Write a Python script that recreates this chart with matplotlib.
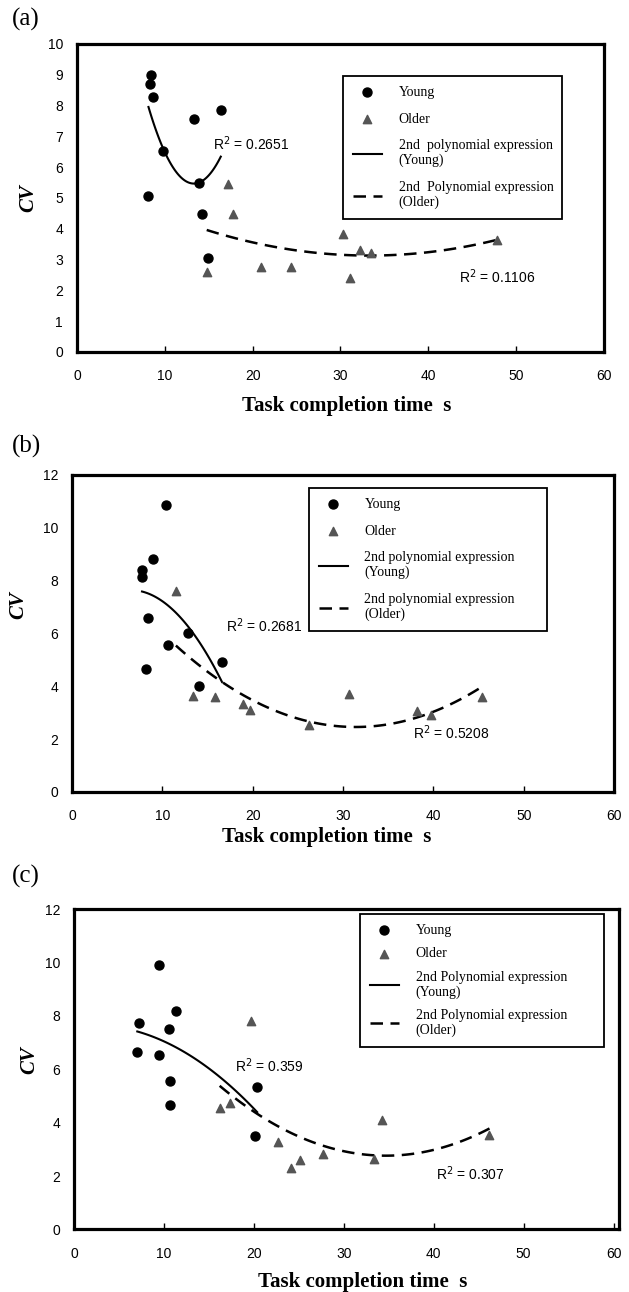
import numpy as np
import matplotlib.pyplot as plt

plt.rcParams['font.family'] = ['Liberation Sans', 'DejaVu Sans']

# (a)
a_young_t = [8.48, 8.29, 8.63, 8.14, 9.8, 13.31, 16.37, 13.92, 14.19, 14.91]
a_young_cv = [9.0, 8.7, 8.28, 5.07, 6.54, 7.56, 7.87, 5.5, 4.49, 3.06]
a_older_t = [17.2, 17.8, 14.77, 20.94, 24.32, 30.26, 32.25, 33.43, 31.1, 47.8]
a_older_cv = [5.44, 4.47, 2.6, 2.77, 2.75, 3.84, 3.32, 3.21, 2.39, 3.65]
a_r2 = ["0.2651", "0.1106"]

# (b)
b_young_t = [10.4, 8.93, 7.75, 7.75, 8.45, 8.23, 10.63, 12.84, 16.6, 14.1]
b_young_cv = [10.85, 8.82, 8.40, 8.13, 6.6, 4.64, 5.56, 6.02, 4.92, 4.0]
b_older_t = [11.5, 13.4, 15.8, 18.9, 19.7, 26.2, 30.7, 38.2, 39.7, 45.4]
b_older_cv = [7.6, 3.62, 3.6, 3.33, 3.09, 2.52, 3.70, 3.06, 2.91, 3.59]
b_r2 = ["0.2681", "0.5208"]

# (c)
c_young_t = [9.48, 7.19, 7.04, 11.33, 10.56, 9.48, 10.63, 10.63, 20.37, 20.15]
c_young_cv = [9.9, 7.75, 6.64, 8.19, 7.52, 6.54, 5.56, 4.65, 5.35, 3.5]
c_older_t = [19.7, 16.2, 17.35, 22.7, 24.1, 25.1, 27.65, 33.4, 34.3, 46.2]
c_older_cv = [7.79, 4.54, 4.75, 3.26, 2.31, 2.6, 2.81, 2.64, 4.1, 3.54]
c_r2 = ["0.359", "0.307"]

W, H = 629, 1292
fig = plt.figure(figsize=(W / 100, H / 100), dpi=100)

panels = [
    dict(tag="(a)", rect=[0.1224, 0.7276, 0.8378, 0.2384], xmax=60, ymax=10, ystep=1,
         yt=a_young_t, yc=a_young_cv, ot=a_older_t, oc=a_older_cv, r2=a_r2,
         r2pos=[(15.5, 6.75, 'left'), (43.5, 2.44, 'left')],
         labels=["2nd  polynomial expression\n(Young)", "2nd  Polynomial expression\n(Older)"],
         leg=(0.505, 0.435, 0.4156, 0.461), lsp=1.0, tagy=19, ylab=(-0.074, 0.5), xlab=(347, 406)),
    dict(tag="(b)", rect=[0.1145, 0.3870, 0.8617, 0.2454], xmax=60, ymax=12, ystep=2,
         yt=b_young_t, yc=b_young_cv, ot=b_older_t, oc=b_older_cv, r2=b_r2,
         r2pos=[(25.5, 6.3, 'right'), (37.7, 2.24, 'left')],
         labels=["2nd polynomial expression\n(Young)", "2nd polynomial expression\n(Older)"],
         leg=(0.437, 0.514, 0.439, 0.445), lsp=1.0, tagy=446, ylab=(-0.081, 0.59), xlab=(327, 837)),
    dict(tag="(c)", rect=[0.1176, 0.0484, 0.8665, 0.2480], xmax=60.6, ymax=12, ystep=2,
         yt=c_young_t, yc=c_young_cv, ot=c_older_t, oc=c_older_cv, r2=c_r2,
         r2pos=[(17.9, 6.15, 'left'), (40.3, 2.07, 'left')],
         labels=["2nd Polynomial expression\n(Young)", "2nd Polynomial expression\n(Older)"],
         leg=(0.525, 0.584, 0.448, 0.40), lsp=0.75, tagy=876, ylab=(-0.063, 0.528), xlab=(363, 1282)),
]

for p in panels:
    ax = fig.add_axes(p["rect"])
    yt, yc = np.array(p["yt"]), np.array(p["yc"])
    ot, oc = np.array(p["ot"]), np.array(p["oc"])

    hy = ax.scatter(yt, yc, s=42, marker='o', color='black', zorder=3, label='Young')
    ho = ax.scatter(ot, oc, s=36, marker='^', color='#555555', zorder=3, label='Older')

    # 2nd order polynomial trend lines
    fy = np.polyfit(yt, yc, 2)
    xx = np.linspace(yt.min(), yt.max(), 100)
    ly, = ax.plot(xx, np.polyval(fy, xx), color='black', lw=1.5)
    fo = np.polyfit(ot, oc, 2)
    xx = np.linspace(ot.min(), ot.max(), 100)
    lo, = ax.plot(xx, np.polyval(fo, xx), color='black', lw=1.8, dashes=(5, 3))

    (x1, y1, h1), (x2, y2, h2) = p["r2pos"]
    ax.text(x1, y1, "R$^2$ = " + p["r2"][0], ha=h1, va='center', fontsize=10)
    ax.text(x2, y2, "R$^2$ = " + p["r2"][1], ha=h2, va='center', fontsize=10)

    ax.set_xlim(0, p["xmax"])
    ax.set_ylim(0, p["ymax"])
    ax.set_xticks(np.arange(0, 61, 10))
    ax.set_yticks(np.arange(0, p["ymax"] + 0.1, p["ystep"]))
    ax.tick_params(axis='x', direction='in', length=4, width=1, pad=12.5, labelsize=10)
    ax.tick_params(axis='y', length=0, pad=10, labelsize=10)
    for s in ax.spines.values():
        s.set_linewidth(2.3)

    ax.set_ylabel("CV", family='Liberation Serif', fontsize=15, fontweight='bold', style='italic')
    ax.yaxis.set_label_coords(*p["ylab"])
    ax.set_xlabel("Task completion time  s", family='Liberation Serif', fontsize=15, fontweight='bold')
    left_px = p["rect"][0] * W
    top_px = H - (p["rect"][1] + p["rect"][3]) * H
    ax.xaxis.set_label_coords((p["xlab"][0] - left_px) / (p["rect"][2] * W),
                              1 - (p["xlab"][1] - top_px) / (p["rect"][3] * H))
    ax.xaxis.label.set_va('center')

    leg = ax.legend([hy, ho, ly, lo], ["Young", "Older"] + p["labels"],
                    loc='upper left', bbox_to_anchor=p["leg"], mode='expand',
                    frameon=True, fancybox=False,
                    edgecolor='black', framealpha=1, borderpad=0.7, labelspacing=p["lsp"],
                    handlelength=2.1, handletextpad=1.2, borderaxespad=0,
                    prop={'family': 'Liberation Serif', 'size': 10})
    leg.get_frame().set_linewidth(1.3)
    for t in leg.get_texts():
        t.set_linespacing(1.15)

    fig.text(12 / W, 1 - p["tagy"] / H, p["tag"], family='Liberation Serif',
             fontsize=18, va='center', ha='left')

fig.savefig("out.png", dpi=100)
